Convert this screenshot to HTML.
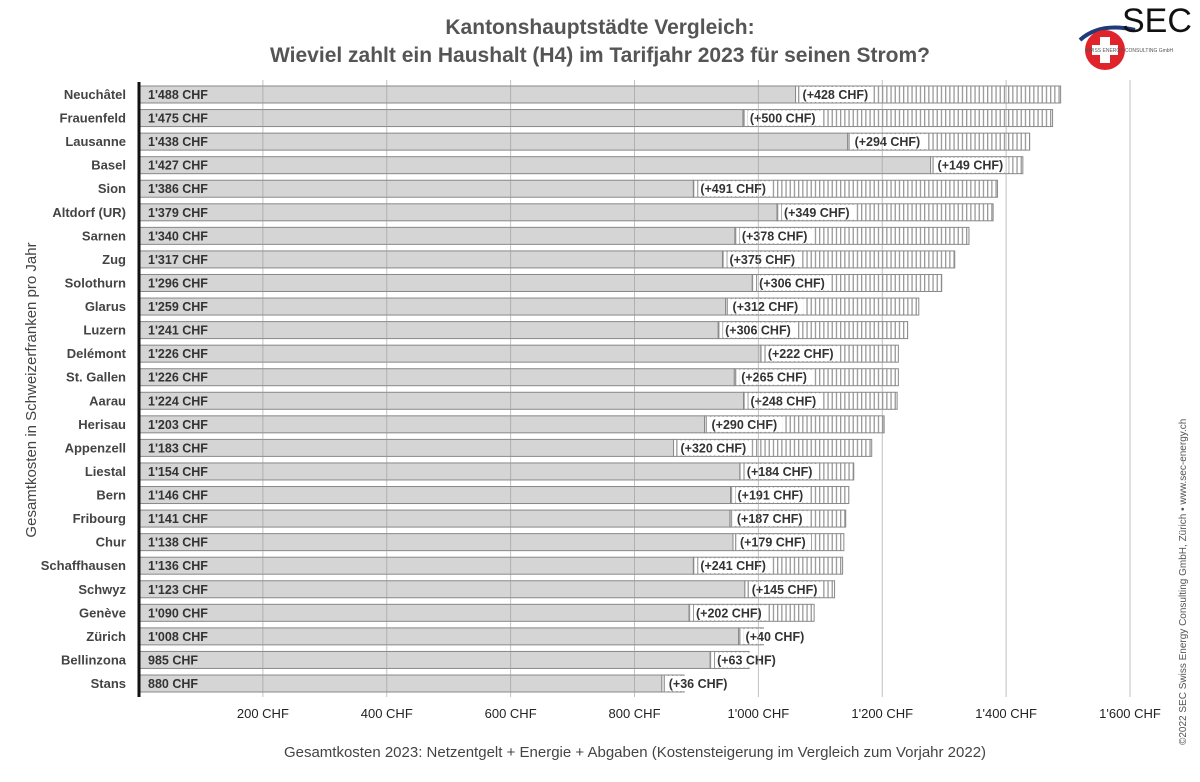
<!DOCTYPE html>
<html><head><meta charset="utf-8"><style>
body{margin:0;background:#fff;}
svg text{font-family:"Liberation Sans",Arial,sans-serif;}
</style></head><body>
<svg id="chart" width="1200" height="777" viewBox="0 0 1200 777" xmlns="http://www.w3.org/2000/svg">
<defs>
<pattern id="stripes" patternUnits="userSpaceOnUse" width="4.2" height="20">
<rect width="4.2" height="20" fill="#fff"/><rect x="0" width="1.3" height="20" fill="#999"/>
</pattern>
</defs>
<text x="600" y="34" text-anchor="middle" font-size="21" font-weight="bold" fill="#555">Kantonshauptstädte Vergleich:</text>
<text x="600" y="62" text-anchor="middle" font-size="21" font-weight="bold" fill="#555">Wieviel zahlt ein Haushalt (H4) im Tarifjahr 2023 für seinen Strom?</text>
<g>
<path d="M1080,40 Q1100,22 1135,30" stroke="#1f3b7a" stroke-width="4" fill="none"/>
<circle cx="1105" cy="50" r="20" fill="#e0242b"/>
<rect x="1100" y="37" width="10" height="26" fill="#fff"/><rect x="1092" y="45" width="26" height="10" fill="#fff"/>
<text x="1122" y="32" font-size="34" fill="#111" font-family="Liberation Sans,sans-serif">SEC</text>
<text x="1085" y="52" font-size="5" fill="#555">SWISS ENERGY CONSULTING GmbH</text>
</g>
<g id="grid"></g>
<g id="bars"></g>
<g id="axis"></g>
<text transform="translate(36,390) rotate(-90)" text-anchor="middle" font-size="15" fill="#444">Gesamtkosten in Schweizerfranken pro Jahr</text>
<text x="635" y="757" text-anchor="middle" font-size="15" fill="#444">Gesamtkosten 2023: Netzentgelt + Energie + Abgaben (Kostensteigerung im Vergleich zum Vorjahr 2022)</text>
<text transform="translate(1186,745) rotate(-90)" font-size="10" fill="#555">©2022 SEC Swiss Energy Consulting GmbH, Zürich • www.sec-energy.ch</text>
</svg>
<script>
const cities=["Neuchâtel","Frauenfeld","Lausanne","Basel","Sion","Altdorf (UR)","Sarnen","Zug","Solothurn","Glarus","Luzern","Delémont","St. Gallen","Aarau","Herisau","Appenzell","Liestal","Bern","Fribourg","Chur","Schaffhausen","Schwyz","Genève","Zürich","Bellinzona","Stans"];
const totals=[1488,1475,1438,1427,1386,1379,1340,1317,1296,1259,1241,1226,1226,1224,1203,1183,1154,1146,1141,1138,1136,1123,1090,1008,985,880];
const increases=[428,500,294,149,491,349,378,375,306,312,306,222,265,248,290,320,184,191,187,179,241,145,202,40,63,36];
const ticks=[200,400,600,800,1000,1200,1400,1600];
const tickLabels=["200 CHF","400 CHF","600 CHF","800 CHF","1'000 CHF","1'200 CHF","1'400 CHF","1'600 CHF"];
const NS="http://www.w3.org/2000/svg";
const x=v=>139+v*(1130-139)/1600;
const y=i=>86+i*23.56;
const bh=17;
function mk(tag,attrs,parent,txt){const e=document.createElementNS(NS,tag);for(const k in attrs)e.setAttribute(k,attrs[k]);if(txt!==undefined)e.textContent=txt;parent.appendChild(e);return e;}
const fmt=v=>v>=1000?Math.floor(v/1000)+"'"+String(v%1000).padStart(3,"0"):String(v);
const bars=document.getElementById('bars'),grid=document.getElementById('grid'),axis=document.getElementById('axis');
cities.forEach((c,i)=>{
  const prev=totals[i]-increases[i];
  const g=mk('g',{},bars);
  
  
  const s=mk('rect',{x:x(prev),y:y(i),width:x(totals[i])-x(prev),height:bh,fill:'url(#stripes)',stroke:'#888','stroke-width':1},g);
  
  
  const b=mk('rect',{x:x(0),y:y(i),width:x(prev)-x(0),height:bh,fill:'#d5d5d5',stroke:'#888','stroke-width':1},g);
  
  
  const lbl="(+"+increases[i]+" CHF)";
  const lx=x(prev)+5;
  const bg=mk('rect',{x:lx,y:y(i)+1,width:lbl.length*6.9+4,height:bh-2,fill:'#fff'},g);
  
  
  const t=mk('text',{x:lx+2,y:y(i)+13,'font-size':12.5,'font-weight':'bold',fill:'#333'},g,lbl);
  
  
  const v=mk('text',{x:148,y:y(i)+13,'font-size':12.5,'font-weight':'bold',fill:'#333'},g,fmt(totals[i])+" CHF");
  
  
  const cl=mk('text',{x:126,y:y(i)+13,'text-anchor':'end','font-size':13,'font-weight':'bold',fill:'#444'},axis,c);
  
  
});
ticks.forEach((t,i)=>{
  const l=mk('line',{x1:x(t),x2:x(t),y1:80,y2:697,stroke:'#999','stroke-width':1,opacity:0.6},bars);
  
  
  const tl=mk('text',{x:x(t),y:718,'text-anchor':'middle','font-size':13,fill:'#222'},axis,tickLabels[i]);
  
  
});
const ax=mk('line',{x1:139,x2:139,y1:82,y2:697,stroke:'#111','stroke-width':3},axis);


</script>
</body></html>
